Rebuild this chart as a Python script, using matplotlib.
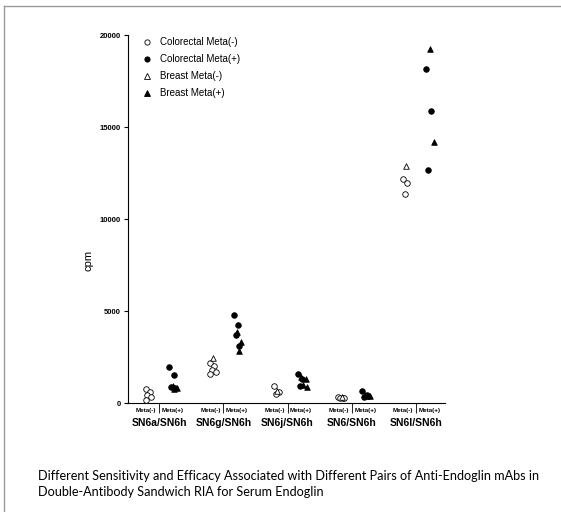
import matplotlib.pyplot as plt
from matplotlib.lines import Line2D

# data
groups = ['SN6a/SN6h', 'SN6g/SN6h', 'SN6j/SN6h', 'SN6/SN6h', 'SN6l/SN6h']

colorectal_neg = [
    [750, 600, 450, 300, 150],
    [2200, 2000, 1800, 1700, 1600],
    [950, 600, 500],
    [300, 280, 250, 250],
    [12200, 11950, 11350],
]
colorectal_pos = [
    [1950, 1500, 850, 800],
    [4800, 4250, 3700, 3100],
    [1600, 1300, 900],
    [650, 420, 350],
    [18150, 15850, 12650],
]
breast_neg = [
    [],
    [2450],
    [650],
    [350],
    [12900],
]
breast_pos = [
    [900, 800, 750],
    [3850, 3300, 2800],
    [1400, 1300, 1000, 850],
    [450, 400, 380],
    [19250, 14200],
]

yticks = [0, 5000, 10000, 15000, 20000]

plt.rcParams['font.family'] = ['Liberation Sans', 'DejaVu Sans']

W, H = 561, 512
fig = plt.figure(figsize=(W / 100, H / 100), dpi=100)
ax = fig.add_axes([128 / W, 1 - 403 / H, (445 - 128) / W, (403 - 35) / H])

series = [
    (colorectal_neg, 'o', 'white', -0.17, 'Colorectal Meta(-)'),
    (colorectal_pos, 'o', 'black', 0.2, 'Colorectal Meta(+)'),
    (breast_neg, '^', 'white', -0.12, 'Breast Meta(-)'),
    (breast_pos, '^', 'black', 0.25, 'Breast Meta(+)'),
]
jit = [-0.04, 0.03, -0.01, 0.05, -0.03]

for vals, mk, fc, off, lab in series:
    for g, pts in enumerate(vals):
        xs = [g + 1 + off + jit[i % len(jit)] for i in range(len(pts))]
        ax.scatter(xs, pts, marker=mk, s=16, facecolors=fc,
                   edgecolors='black', linewidths=0.6, clip_on=False, zorder=3)

ax.set_xlim(0.517, 5.45)
ax.set_ylim(0, 20000)
ax.spines['top'].set_visible(False)
ax.spines['right'].set_visible(False)
ax.spines['left'].set_linewidth(0.8)
ax.spines['bottom'].set_linewidth(0.8)
ax.set_yticks(yticks)
ax.set_yticklabels([str(v) for v in yticks], fontsize=5.5, fontweight='bold')
ax.tick_params(axis='y', length=3, width=0.8, pad=2)
ax.set_xticks(range(1, len(groups) + 1))
ax.set_xticklabels([])
ax.tick_params(axis='x', length=7, width=0.6, direction='out')

tr = ax.get_xaxis_transform()
for g, name in enumerate(groups):
    ax.text(g + 1 - 0.2, -0.02, 'Meta(-)', transform=tr, ha='center', va='center',
            fontsize=4.5, fontweight='bold')
    ax.text(g + 1 + 0.21, -0.02, 'Meta(+)', transform=tr, ha='center', va='center',
            fontsize=4.5, fontweight='bold')
    ax.text(g + 1, -0.055, name, transform=tr, ha='center', va='center',
            fontsize=7.5, fontweight='bold')

fig.text(88 / W, 1 - 260 / H, 'cpm', rotation=90, ha='center', va='center', fontsize=8)

handles = [Line2D([], [], marker=mk, linestyle='none', markerfacecolor=fc,
                  markeredgecolor='black', markeredgewidth=0.6, markersize=3.8)
           for _, mk, fc, _, _ in series]
labels = [s[4] for s in series]
ax.legend(handles, labels, loc='upper left', bbox_to_anchor=(143 / W, 1 - 37 / H),
          bbox_transform=fig.transFigure, frameon=False, fontsize=7,
          handlelength=0.8, handletextpad=0.9, labelspacing=0.72,
          borderpad=0, borderaxespad=0)

fig.text(38 / W, 1 - 476 / H,
         'Different Sensitivity and Efficacy Associated with Different Pairs of Anti-Endoglin mAbs in',
         fontsize=9.1, family='Lato', va='center')
fig.text(38 / W, 1 - 492 / H, 'Double-Antibody Sandwich RIA for Serum Endoglin',
         fontsize=9.1, family='Lato', va='center')

# frame around picture
fig.add_artist(Line2D([4 / W, 4 / W], [0, 1 - 6 / H], transform=fig.transFigure,
                      color='#9a9a9a', linewidth=1))
fig.add_artist(Line2D([4 / W, 1], [1 - 6 / H, 1 - 6 / H], transform=fig.transFigure,
                      color='#9a9a9a', linewidth=1))

fig.savefig('out.png', dpi=100)
